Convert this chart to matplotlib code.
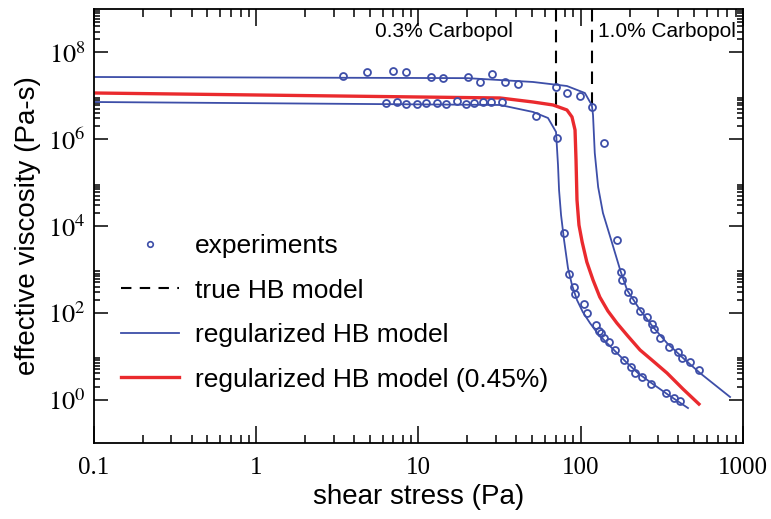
import matplotlib
matplotlib.use("Agg")
import matplotlib.pyplot as plt
from matplotlib.lines import Line2D
from matplotlib.ticker import FixedLocator, FixedFormatter, NullFormatter

plt.rcParams['font.family'] = ['Liberation Sans', 'DejaVu Sans']
plt.rcParams['mathtext.fontset'] = 'stix'

BLUE = '#3d4ea8'
RED = '#ea2a2e'

# experiments, 1.0% Carbopol
exp10_x = [3.42, 4.82, 6.96, 8.37, 11.9, 14.2, 20.2, 23.9, 28.4, 34.1, 41.0, 70.4, 82.2, 98.9,
           117, 139, 167, 177, 180, 195, 210, 232, 256, 275, 283, 308, 350, 397, 421, 471, 535]
exp10_y = [2.86e7, 3.53e7, 3.73e7, 3.53e7, 2.71e7, 2.57e7, 2.71e7, 2.08e7, 3.18e7, 2.08e7, 1.87e7,
           1.60e7, 1.16e7, 9.9e6, 5.5e6, 8.2e5, 4750, 871, 570, 301, 197, 110, 80, 55, 42, 26,
           16.3, 12.5, 9.1, 7.35, 4.8]

# experiments, 0.3% Carbopol
exp03_x = [6.31, 7.37, 8.37, 9.8, 11.1, 13.0, 14.8, 17.3, 19.6, 22.0, 25.0, 28.0, 32.7, 53.0,
           71.4, 78.9, 84.7, 90.9, 92.2, 105, 109, 124, 129, 133, 139, 149, 163, 185, 204, 216,
           239, 271, 335, 376, 409]
exp03_y = [6.83e6, 7.19e6, 6.47e6, 6.47e6, 6.83e6, 6.83e6, 6.47e6, 7.59e6, 6.47e6, 6.83e6, 7.19e6,
           7.19e6, 7.19e6, 3.43e6, 1.07e6, 6900, 784, 393, 271, 160, 99, 52, 38, 34, 26, 21, 13.9,
           8.2, 5.6, 4.1, 3.3, 2.29, 1.42, 1.09, 0.93]

# regularized HB fits
fit10_x = [0.1, 20, 50.8, 82.2, 106, 114, 117, 119, 122, 128, 137, 156, 175, 193, 232, 279, 340,
           427, 543, 832]
fit10_y = [2.71e7, 2.55e7, 2.08e7, 1.68e7, 1.16e7, 7.19e6, 6.14e6, 3.61e6, 4.81e5, 7.9e4, 2.0e4,
           4.05e3, 968, 335, 116, 47, 20.1, 9.1, 4.1, 1.15]

fit03_x = [0.1, 31.8, 50.8, 62.8, 70.4, 72.4, 73.5, 75.6, 78.9, 83.4, 88.3, 94.8, 103, 114, 128,
           145, 167, 193, 225, 267, 340, 458]
fit03_y = [7.19e6, 6.14e6, 4.24e6, 3.08e6, 1.47e6, 2.55e5, 6.7e4, 1.79e4, 4.75e3, 1.08e3, 438,
           197, 104, 58, 32.5, 20.1, 11.9, 6.97, 4.1, 2.55, 1.35, 0.64]

fit045_x = [0.1, 31.8, 50.8, 67.5, 82.2, 88.3, 92.2, 93.5, 94.8, 97.5, 102, 109, 119, 131, 147,
            167, 195, 232, 279, 340, 427, 535]
fit045_y = [1.16e7, 8.9e6, 7.19e6, 6.14e6, 4.71e6, 3.25e6, 1.63e6, 3.32e5, 3.97e4, 1.05e4, 4.28e3,
            1.48e3, 570, 231, 110, 58, 29.2, 13.9, 7.74, 4.1, 1.75, 0.79]

# true HB yield stresses (vertical part of the model)
yield_x = [70.4, 117]
yield_ybot = [1.5e6, 6.0e6]

x_ticks = [0.1, 1, 10, 100, 1000]
x_labels = ['0.1', '1', '10', '100', '1000']
y_ticks = [1e0, 1e2, 1e4, 1e6, 1e8]
y_labels = [r'$10^{0}$', r'$10^{2}$', r'$10^{4}$', r'$10^{6}$', r'$10^{8}$']

fig = plt.figure(figsize=(7.71, 5.19), dpi=100)
ax = fig.add_axes([0.1219, 0.1464, 0.8418, 0.8363])
ax.set_xscale('log')
ax.set_yscale('log')
ax.set_xlim(0.1, 1000)
ax.set_ylim(0.1, 1e9)

for xv, yb in zip(yield_x, yield_ybot):
    ax.plot([xv, xv], [1e9, yb], color='black', lw=1.5, dashes=(6, 4))

ax.plot(fit10_x, fit10_y, color=BLUE, lw=1.3)
ax.plot(fit03_x, fit03_y, color=BLUE, lw=1.3)
ax.plot(fit045_x, fit045_y, color=RED, lw=2.4)
ax.plot(exp10_x, exp10_y, 'o', ms=5, mfc='none', mec=BLUE, mew=1.3)
ax.plot(exp03_x, exp03_y, 'o', ms=5, mfc='none', mec=BLUE, mew=1.3)

ax.text(38, 3.0e8, '0.3% Carbopol', ha='right', va='center', fontsize=15)
ax.text(127, 3.0e8, '1.0% Carbopol', ha='left', va='center', fontsize=15)

# ticks
ax.xaxis.set_major_locator(FixedLocator(x_ticks))
ax.xaxis.set_major_formatter(FixedFormatter(x_labels))
ax.xaxis.set_minor_locator(FixedLocator([k * 10.0 ** e for e in range(-1, 3) for k in range(2, 10)]))
ax.xaxis.set_minor_formatter(NullFormatter())
ax.yaxis.set_major_locator(FixedLocator(y_ticks))
ax.yaxis.set_major_formatter(FixedFormatter(y_labels))
ax.yaxis.set_minor_locator(FixedLocator([k * 10.0 ** e for e in (0, 2, 4, 6, 8) for k in range(2, 10)]))
ax.yaxis.set_minor_formatter(NullFormatter())

ax.tick_params(which='both', direction='in', top=True, right=True, width=1.1, colors='black')
ax.tick_params(axis='x', which='major', length=12, pad=10, labelsize=18)
ax.tick_params(axis='x', which='minor', length=6)
ax.tick_params(axis='y', which='major', length=10, pad=6, labelsize=19)
ax.tick_params(axis='y', which='minor', length=4.5)
for lab in ax.get_xticklabels():
    lab.set_fontfamily('Liberation Serif')
for sp in ax.spines.values():
    sp.set_linewidth(1.3)

ax.set_xlabel('shear stress (Pa)', fontsize=20, labelpad=4)
ax.set_ylabel('effective viscosity (Pa-s)', fontsize=20, labelpad=5)

handles = [
    Line2D([], [], ls='none', marker='o', ms=4, mfc='none', mec=BLUE, mew=1.2),
    Line2D([], [], color='black', lw=1.5, dashes=(5, 4)),
    Line2D([], [], color=BLUE, lw=1.3),
    Line2D([], [], color=RED, lw=2.4),
]
labels = ['experiments', 'true HB model', 'regularized HB model', 'regularized HB model (0.45%)']
ax.legend(handles, labels, loc='center left', bbox_to_anchor=(0.026, 0.3), frameon=False,
          fontsize=19, handlelength=2.2, handletextpad=0.6, labelspacing=0.78, borderaxespad=0)

fig.savefig('out.png', dpi=100)
